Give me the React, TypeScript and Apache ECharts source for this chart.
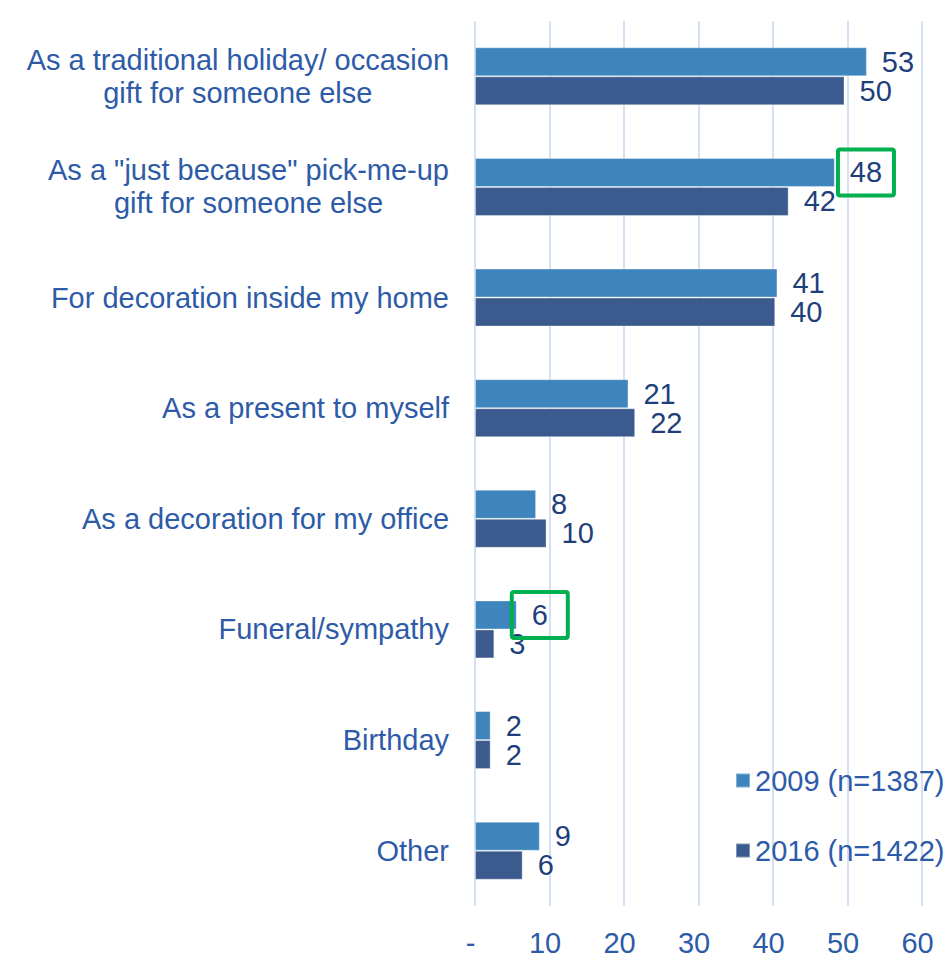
import React, { useEffect, useRef } from "react";
import * as echarts from "echarts";

const categories = [
  'As a traditional holiday/ occasion\ngift for someone else',
  'As a "just because" pick-me-up\ngift for someone else',
  "For decoration inside my home",
  "As a present to myself",
  "As a decoration for my office",
  "Funeral/sympathy",
  "Birthday",
  "Other",
];
const seriesNames = ["2009 (n=1387)", "2016 (n=1422)"];
const values2009 = [52.6, 48.3, 40.6, 20.6, 8.2, 5.6, 2.1, 8.7];
const values2016 = [49.6, 42.1, 40.3, 21.5, 9.6, 2.6, 2.1, 6.4];
const xMin = 0;
const xMax = 60;
const xInterval = 10;
// highlighted labels (series 2009, category index)
const highlightedIdx = [1, 5];

const FONT = "'Liberation Sans', Arial, sans-serif";
const FS = 29;
const C2009 = "#3E84BD";
const C2016 = "#3B5A8D";
const TEXT_BLUE = "#2E5BA8";
const LABEL_NAVY = "#1F3F7A";
const GRID_COLOR = "#C6D6EF";
const BAR_W = 29;
const LABEL_DIST = 15;

export default function App() {
  const ref = useRef<HTMLDivElement>(null);
  useEffect(() => {
    if (!ref.current) return;
    const chart = echarts.init(ref.current, undefined, { renderer: "svg" });
    const labelCfg = {
      show: true,
      position: "right",
      distance: LABEL_DIST,
      color: LABEL_NAVY,
      fontSize: FS,
      fontFamily: FONT,
      formatter: (p: any) => String(Math.round(p.value)),
    };
    chart.setOption({
      animation: false,
      grid: { left: 475, right: 26, top: 21, bottom: 55, containLabel: false },
      legend: {
        orient: "vertical",
        left: 730,
        top: 761,
        itemWidth: 14,
        itemHeight: 14,
        itemGap: 41,
        icon: "rect",
        textStyle: { color: TEXT_BLUE, fontSize: FS, fontFamily: FONT, lineHeight: 29 },
        data: seriesNames,
      },
      xAxis: {
        type: "value",
        min: xMin,
        max: xMax,
        interval: xInterval,
        axisLine: { show: false },
        axisTick: { show: false },
        splitLine: { show: true, lineStyle: { color: GRID_COLOR, width: 1.5 } },
        axisLabel: {
          color: TEXT_BLUE,
          fontSize: FS,
          fontFamily: FONT,
          margin: 22,
          padding: [0, 9, 0, 0],
          formatter: (v: number) => (v === 0 ? "-" : String(v)),
        },
      },
      yAxis: {
        type: "category",
        inverse: true,
        data: categories,
        axisLine: { show: false },
        axisTick: { show: false },
        axisLabel: {
          margin: 26,
          formatter: (v: string) => "{a|" + v + "}",
          rich: {
            a: {
              align: "center",
              color: TEXT_BLUE,
              fontSize: FS,
              fontFamily: FONT,
              lineHeight: 33,
            },
          },
        },
      },
      series: [
        {
          name: seriesNames[0],
          type: "bar",
          data: values2009,
          barWidth: BAR_W,
          barGap: "0%",
          itemStyle: { color: C2009, borderColor: "rgba(255,255,255,0.35)", borderWidth: 1 },
          label: labelCfg,
        },
        {
          name: seriesNames[1],
          type: "bar",
          data: values2016,
          barWidth: BAR_W,
          barGap: "0%",
          itemStyle: { color: C2016, borderColor: "rgba(255,255,255,0.35)", borderWidth: 1 },
          label: labelCfg,
        },
      ],
    });

    const boxes = highlightedIdx.map((i) => {
      const v = values2009[i];
      const pt = chart.convertToPixel({ xAxisIndex: 0, yAxisIndex: 0 }, [v, categories[i]]) as number[];
      const txt = String(Math.round(v));
      const tw = txt.length * 0.556 * FS;
      const cx = pt[0] + LABEL_DIST + tw / 2;
      const cy = pt[1] - BAR_W / 2;
      const w = 56;
      const h = 46;
      return {
        type: "rect",
        shape: { x: cx - w / 2, y: cy - h / 2, width: w, height: h, r: 2 },
        style: { fill: "none", stroke: "#00B050", lineWidth: 4 },
        z: 100,
      };
    });
    chart.setOption({ graphic: boxes });

    return () => chart.dispose();
  }, []);
  return (
    <div
      ref={ref}
      style={{ position: "fixed", left: 0, top: 0, width: 948, height: 961, background: "#fff" }}
    />
  );
}
